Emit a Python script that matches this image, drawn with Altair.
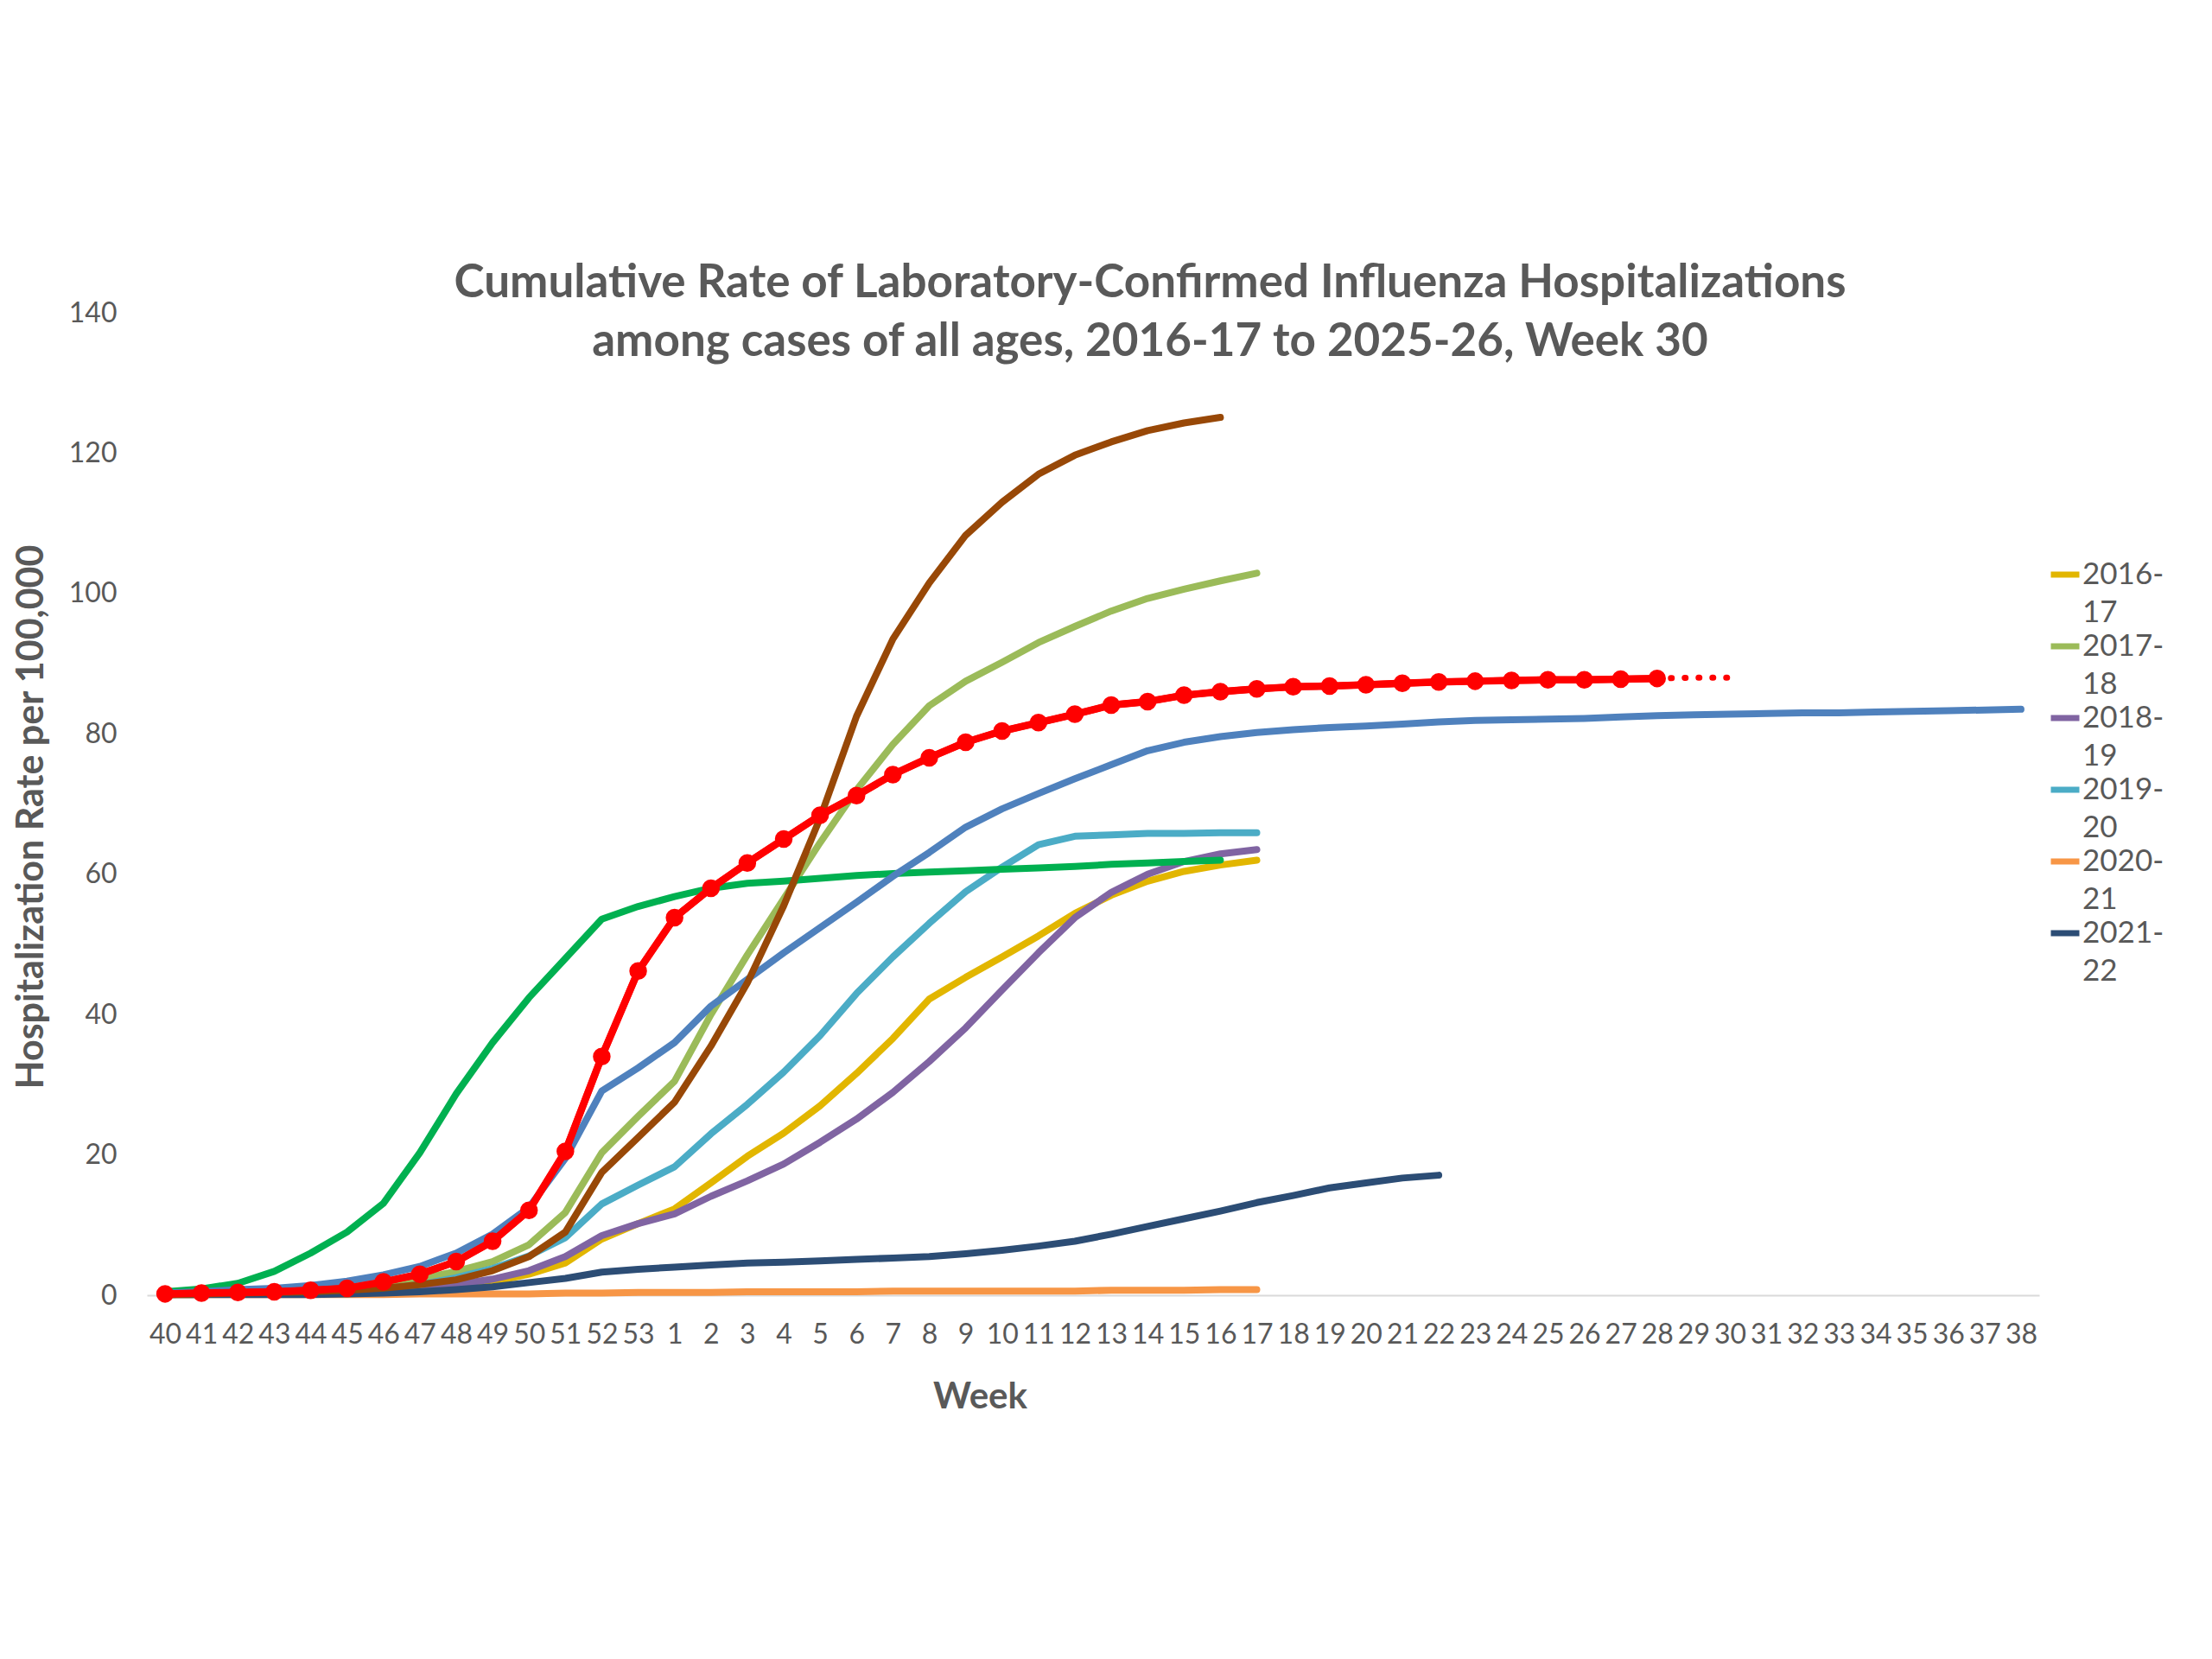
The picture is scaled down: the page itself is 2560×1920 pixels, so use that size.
import pandas as pd
import altair as alt

# week labels of the flu season, week 40 through week 38 of the next year
weeks = [str(w) for w in range(40, 54)] + [str(w) for w in range(1, 39)]

seasons = ["2016-17", "2017-18", "2018-19", "2019-20", "2020-21",
           "2021-22", "2022-23", "2023-24", "2024-25", "2025-26"]
colors = ["#E2B600", "#9BBB59", "#8064A2", "#4BACC6", "#F79646",
          "#2C4D75", "#00B050", "#4F81BD", "#984807", "#FF0000"]

s2016 = [0.1, 0.1, 0.2, 0.2, 0.3, 0.4, 0.6, 0.8, 1.2, 1.9, 3.0, 4.6, 8.0, 10.2,
         12.3, 16.0, 19.8, 23.1, 27.0, 31.6, 36.6, 42.2, 45.3, 48.2, 51.2, 54.4,
         57.0, 59.0, 60.4, 61.3, 62.0]
s2017 = [0.1, 0.2, 0.3, 0.5, 0.7, 1.0, 1.5, 2.3, 3.4, 4.8, 7.2, 11.8, 20.3, 25.5,
         30.5, 40.0, 48.5, 56.5, 64.5, 72.0, 78.5, 84.0, 87.5, 90.2, 93.0, 95.3,
         97.5, 99.3, 100.6, 101.8, 102.9]
s2018 = [0.1, 0.1, 0.2, 0.2, 0.3, 0.4, 0.6, 1.0, 1.5, 2.3, 3.5, 5.5, 8.5, 10.2,
         11.6, 14.1, 16.3, 18.7, 21.8, 25.1, 28.9, 33.3, 38.1, 43.5, 48.8, 53.8,
         57.4, 60.0, 61.8, 62.9, 63.5]
s2019 = [0.1, 0.2, 0.2, 0.3, 0.4, 0.6, 0.9, 1.5, 2.5, 3.8, 5.6, 8.2, 13.0, 15.7,
         18.3, 23.0, 27.2, 31.8, 37.0, 43.0, 48.2, 53.0, 57.5, 61.0, 64.2, 65.4,
         65.6, 65.8, 65.8, 65.9, 65.9]
s2020 = [0.1, 0.1, 0.1, 0.1, 0.1, 0.1, 0.1, 0.2, 0.2, 0.2, 0.2, 0.3, 0.3, 0.4,
         0.4, 0.4, 0.5, 0.5, 0.5, 0.5, 0.6, 0.6, 0.6, 0.6, 0.6, 0.6, 0.7, 0.7,
         0.7, 0.8, 0.8]
s2021 = [0.1, 0.1, 0.1, 0.1, 0.1, 0.2, 0.3, 0.5, 0.8, 1.2, 1.8, 2.4, 3.3, 3.7,
         4.0, 4.3, 4.6, 4.7, 4.9, 5.1, 5.3, 5.5, 5.9, 6.4, 7.0, 7.7, 8.7, 9.8,
         10.9, 12.0, 13.2, 14.2, 15.3, 16.0, 16.7, 17.1]
s2022 = [0.5, 0.9, 1.7, 3.4, 6.0, 9.0, 13.1, 20.3, 28.7, 36.0, 42.4, 48.0, 53.6, 55.4,
         56.8, 58.0, 58.7, 59.0, 59.4, 59.8, 60.1, 60.3, 60.5, 60.7, 60.9, 61.1,
         61.4, 61.6, 61.8, 62.0]
s2023 = [0.3, 0.5, 0.8, 1.0, 1.4, 2.0, 2.9, 4.1, 6.0, 8.7, 12.5, 19.5, 29.1, 32.4,
         36.0, 41.2, 45.0, 48.8, 52.4, 56.0, 59.7, 63.1, 66.7, 69.3, 71.5, 73.6,
         75.6, 77.6, 78.8, 79.6, 80.2, 80.6, 80.9, 81.1, 81.4, 81.7, 81.9, 82.0,
         82.1, 82.2, 82.4, 82.6, 82.7, 82.8, 82.9, 83.0, 83.0, 83.1, 83.2, 83.3,
         83.4, 83.5]
s2024 = [0.1, 0.2, 0.3, 0.4, 0.5, 0.7, 1.0, 1.5, 2.2, 3.5, 5.5, 9.0, 17.5, 22.5,
         27.5, 35.5, 44.5, 55.5, 68.0, 82.5, 93.5, 101.5, 108.3, 113.0, 117.0,
         119.7, 121.6, 123.2, 124.3, 125.1]
s2025 = [0.2, 0.3, 0.4, 0.5, 0.7, 1.0, 1.9, 3.0, 4.8, 7.7, 12.1, 20.5, 34.0, 46.2,
         53.8, 58.0, 61.6, 65.0, 68.4, 71.2, 74.2, 76.6, 78.8, 80.4, 81.6, 82.8,
         84.1, 84.6, 85.5, 86.0, 86.4, 86.7, 86.8, 87.0, 87.2, 87.4, 87.5, 87.6,
         87.7, 87.7, 87.8, 87.9]
# last weeks of the current season, drawn dotted
tail_weeks = ["28", "29", "30"]
tail_values = [87.9, 88.0, 88.0]

series = [s2016, s2017, s2018, s2019, s2020, s2021, s2022, s2023, s2024, s2025]

rows = []
for name, vals in zip(seasons, series):
    for i, v in enumerate(vals):
        rows.append({"season": name, "week": weeks[i], "idx": i, "rate": v})
df = pd.DataFrame(rows)
current = df[df["season"] == "2025-26"]
tail = pd.DataFrame({"week": tail_weeks, "idx": range(len(tail_weeks)), "rate": tail_values})

FONT = "Lato"
GREY = "#595959"

x = alt.X("week:O", scale=alt.Scale(domain=weeks, padding=0.5),
          axis=alt.Axis(title="Week", labelAngle=0, labelOverlap=False, ticks=False,
                        tickSize=0, labelPadding=30, labelFontSize=32, labelColor=GREY,
                        labelFont=FONT, domainColor="#D9D9D9", domainWidth=2,
                        titleFont=FONT, titleFontSize=42, titleFontWeight="bold",
                        titleColor=GREY, titleX=964, titleY=117, titleBaseline="middle"))
y = alt.Y("rate:Q", scale=alt.Scale(domain=[0, 140]),
          axis=alt.Axis(title="Hospitalization Rate per 100,000", values=list(range(0, 141, 20)),
                        grid=False, domain=False, ticks=False, tickSize=0, labelPadding=35,
                        labelFontSize=32, labelColor=GREY, labelFont=FONT,
                        titleFont=FONT, titleFontSize=43, titleFontWeight="bold",
                        titleColor=GREY, titleX=-134, titleY=583, titleBaseline="middle"))

lines = alt.Chart(df).mark_line(strokeWidth=8, strokeCap="round", strokeJoin="round").encode(
    x=x, y=y,
    order=alt.Order("idx:Q"),
    color=alt.Color("season:N", scale=alt.Scale(domain=seasons, range=colors),
                    legend=alt.Legend(title=None, orient="none", legendX=2200, legendY=283,
                                      values=seasons[:6], symbolType="stroke",
                                      symbolStrokeWidth=7, symbolSize=1089, labelOffset=0,
                                      labelFont=FONT, labelFontSize=35, labelColor=GREY,
                                      labelExpr="[slice(datum.label, 0, 5), slice(datum.label, 5)]",
                                      labelBaseline="middle", rowPadding=1)),
)

dots = alt.Chart(current).mark_point(filled=True, shape="circle", size=420, color="#FF0000",
                                     opacity=1, strokeWidth=0).encode(x=x, y=y)

dotted = alt.Chart(tail).mark_line(color="#FF0000", strokeWidth=7, strokeCap="round",
                                   strokeDash=[1, 15]).encode(x=x, y=y, order=alt.Order("idx:Q"))

current_line = alt.Chart(current).mark_line(color="#FF0000", strokeWidth=8.5, strokeCap="round",
                                            strokeJoin="round").encode(x=x, y=y, order=alt.Order("idx:Q"))

chart = alt.layer(lines, dotted, current_line, dots).properties(
    width=2190, height=1137,
    title=alt.TitleParams(
        text=["Cumulative Rate of Laboratory-Confirmed Influenza Hospitalizations",
              "among cases of all ages, 2016-17 to 2025-26, Week 30"],
        font=FONT, fontSize=53, fontWeight="bold", color=GREY, lineHeight=68,
        anchor="middle", frame="group", dx=66, offset=-77),
    autosize=alt.AutoSizeParams(type="none"),
    padding={"left": 162, "top": 354, "right": 192, "bottom": 413},
).configure(style={"guide-label": {"lineHeight": 44}}).configure_view(stroke=None)

chart.save("out.html", embed_options={"renderer": "svg", "actions": False})
